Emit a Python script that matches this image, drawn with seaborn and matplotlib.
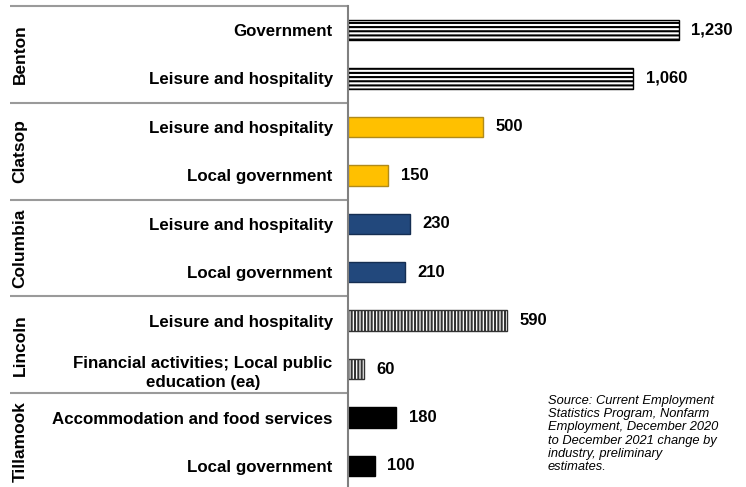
import matplotlib
matplotlib.use("Agg")
import matplotlib.pyplot as plt
import matplotlib.transforms as mtransforms
import seaborn as sns
import pandas as pd

counties = ["Benton", "Benton", "Clatsop", "Clatsop", "Columbia", "Columbia",
            "Lincoln", "Lincoln", "Tillamook", "Tillamook"]
industries = ["Government", "Leisure and hospitality",
              "Leisure and hospitality", "Local government",
              "Leisure and hospitality", "Local government",
              "Leisure and hospitality", "Financial activities; Local public\neducation (ea)",
              "Accommodation and food services", "Local government"]
values = [1230, 1060, 500, 150, 230, 210, 590, 60, 180, 100]
county_order = ["Benton", "Clatsop", "Columbia", "Lincoln", "Tillamook"]
source_text = ("Source: Current Employment\nStatistics Program, Nonfarm\n"
               "Employment, December 2020\nto December 2021 change by\n"
               "industry, preliminary\nestimates.")

fills = {"Benton": "white", "Clatsop": "#FFC000", "Columbia": "#22487C",
         "Lincoln": "white", "Tillamook": "black"}
edges = {"Benton": "black", "Clatsop": "#B08A1A", "Columbia": "#152E52",
         "Lincoln": "#333333", "Tillamook": "black"}
hatches = {"Benton": "----", "Clatsop": "", "Columbia": "", "Lincoln": "|||||",
           "Tillamook": ""}

sns.set_style("white")
plt.rcParams["font.family"] = ["Liberation Sans", "DejaVu Sans"]
plt.rcParams["text.color"] = "black"
plt.rcParams["ytick.color"] = "black"
plt.rcParams["ytick.labelcolor"] = "black"
plt.rcParams["hatch.linewidth"] = 1.5
plt.rcParams["hatch.color"] = "black"

rows = [f"{c}|{i}" for c, i in zip(counties, industries)]
df = pd.DataFrame({"row": rows, "county": counties, "industry": industries, "value": values})

fig = plt.figure(figsize=(7.46, 4.87), dpi=100)
ax = fig.add_axes([348 / 746, 1 - 490.2 / 487, 1 - 348 / 746, 484.4 / 487])

sns.barplot(data=df, y="row", x="value", hue="county", order=rows,
            hue_order=county_order, palette=fills, dodge=False, orient="h",
            width=0.42, legend=False, ax=ax)

# style bars
for patch in ax.patches:
    h = patch.get_height()
    if patch.get_width() == 0 or h == 0:
        continue
    yc = patch.get_y() + h / 2
    idx = int(round(yc))
    c = counties[idx]
    patch.set_facecolor(fills[c])
    patch.set_edgecolor(edges[c])
    patch.set_linewidth(1.0)
    patch.set_hatch(hatches[c])

ax.set_xlim(0, (746 - 348) / (331 / 1230))
ax.set_ylim(9.5, -0.5)

for i, v in enumerate(values):
    ax.annotate(f"{v:,}", xy=(v, i), xytext=(9, 0), textcoords="offset points",
                ha="left", va="center", fontsize=12, fontweight="bold", color="black")

ax.set_yticks(range(len(industries)))
ax.set_yticklabels(industries, fontsize=12.2, fontweight="bold",
                   multialignment="center", color="black", linespacing=1.35)
ax.tick_params(axis="y", length=0, pad=11)
ax.set_xticks([])
ax.set_xlabel("")
ax.set_ylabel("")

for s in ["top", "right", "bottom"]:
    ax.spines[s].set_visible(False)
ax.spines["left"].set_color("#808080")
ax.spines["left"].set_linewidth(1.5)

# group separators and county labels
trans = mtransforms.blended_transform_factory(fig.transFigure, ax.transData)
x0 = 10 / 746
x1 = 348 / 746
for b in [-0.5, 1.5, 3.5, 5.5, 7.5]:
    ax.plot([x0, x1], [b, b], transform=trans, color="#9a9a9a", lw=1.5,
            clip_on=False, solid_capstyle="butt")
for k, c in enumerate(county_order):
    ax.text(20 / 746, 2 * k + 0.5, c, transform=trans, rotation=90,
            ha="center", va="center", fontsize=12.5, fontweight="bold", color="black")

fig.text(548 / 746, 1 - 434 / 487, source_text, ha="left", va="center",
         fontsize=9.3, style="italic", linespacing=1.15, color="black")

fig.savefig("out.png", dpi=100)
